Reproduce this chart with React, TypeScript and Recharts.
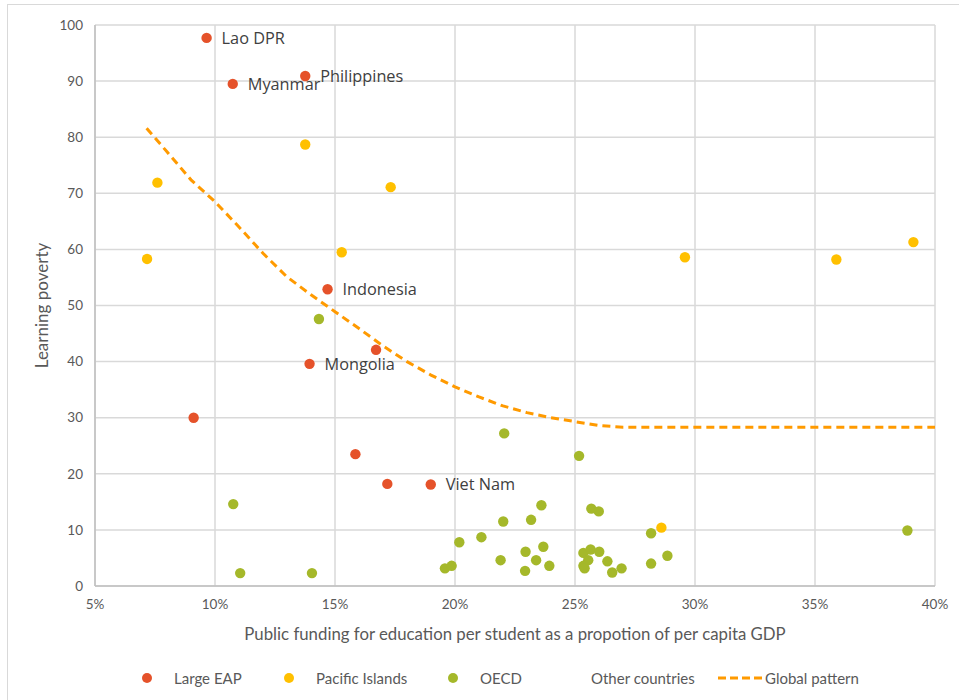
import { ScatterChart, Scatter, XAxis, YAxis, CartesianGrid, Label } from "recharts";

const FONT = "Lato, 'Open Sans', sans-serif";
const LABEL_FONT = "'Open Sans', Lato, sans-serif";
const RED = "#E5522A";
const YELLOW = "#FFC000";
const GREEN = "#A5B82A";
const ORANGE = "#FF9A00";

const xTicks = [5, 10, 15, 20, 25, 30, 35, 40];
const yTicks = [0, 10, 20, 30, 40, 50, 60, 70, 80, 90, 100];

// x = public funding per student (% of per capita GDP), y = learning poverty
const largeEap = [
  { x: 9.65, y: 97.7, name: "Lao DPR" },
  { x: 10.74, y: 89.5, name: "Myanmar" },
  { x: 13.76, y: 90.9, name: "Philippines" },
  { x: 14.69, y: 52.9, name: "Indonesia" },
  { x: 16.71, y: 42.1, name: "" },
  { x: 13.94, y: 39.6, name: "Mongolia" },
  { x: 9.11, y: 30.0, name: "" },
  { x: 15.85, y: 23.5, name: "" },
  { x: 17.18, y: 18.2, name: "" },
  { x: 18.99, y: 18.1, name: "Viet Nam" },
];

const pacificIslands = [
  { x: 13.76, y: 78.7 },
  { x: 7.6, y: 71.9 },
  { x: 17.32, y: 71.1 },
  { x: 7.17, y: 58.3 },
  { x: 15.28, y: 59.5 },
  { x: 29.58, y: 58.6 },
  { x: 35.89, y: 58.2 },
  { x: 39.1, y: 61.3 },
  { x: 28.6, y: 10.4 },
];

const oecd = [
  { x: 14.33, y: 47.6 },
  { x: 10.76, y: 14.6 },
  { x: 11.05, y: 2.3 },
  { x: 14.04, y: 2.3 },
  { x: 22.05, y: 27.2 },
  { x: 25.17, y: 23.2 },
  { x: 19.58, y: 3.15 },
  { x: 19.86, y: 3.6 },
  { x: 20.18, y: 7.8 },
  { x: 21.1, y: 8.7 },
  { x: 22.01, y: 11.5 },
  { x: 21.9, y: 4.6 },
  { x: 23.17, y: 11.8 },
  { x: 23.6, y: 14.4 },
  { x: 22.94, y: 6.1 },
  { x: 23.68, y: 7.0 },
  { x: 23.38, y: 4.6 },
  { x: 22.92, y: 2.7 },
  { x: 23.93, y: 3.6 },
  { x: 25.68, y: 13.8 },
  { x: 25.99, y: 13.3 },
  { x: 25.35, y: 5.9 },
  { x: 25.65, y: 6.5 },
  { x: 26.01, y: 6.1 },
  { x: 25.55, y: 4.6 },
  { x: 25.35, y: 3.6 },
  { x: 25.4, y: 3.15 },
  { x: 26.35, y: 4.4 },
  { x: 26.55, y: 2.4 },
  { x: 26.94, y: 3.15 },
  { x: 28.17, y: 9.4 },
  { x: 28.17, y: 4.0 },
  { x: 28.85, y: 5.4 },
  { x: 38.85, y: 9.9 },
];

const globalPattern = [
  { x: 7.15, y: 81.6 },
  { x: 8, y: 77.4 },
  { x: 9, y: 72.4 },
  { x: 10, y: 68.5 },
  { x: 11, y: 64.0 },
  { x: 12, y: 59.3 },
  { x: 13, y: 55.1 },
  { x: 14, y: 51.9 },
  { x: 15, y: 48.9 },
  { x: 16, y: 45.9 },
  { x: 17, y: 42.8 },
  { x: 18, y: 40.0 },
  { x: 19, y: 37.6 },
  { x: 20, y: 35.5 },
  { x: 21, y: 33.7 },
  { x: 22, y: 32.1 },
  { x: 23, y: 30.9 },
  { x: 24, y: 30.0 },
  { x: 25, y: 29.3 },
  { x: 26, y: 28.6 },
  { x: 27, y: 28.3 },
  { x: 40, y: 28.3 },
];

const dot = (color: string) => (props: any) =>
  <circle cx={props.cx} cy={props.cy} r={5.2} fill={color} />;

// country dots with their name written to the right
const EapDot = (props: any) => {
  const { cx, cy, payload } = props;
  return (
    <g>
      <circle cx={cx} cy={cy} r={5.2} fill={RED} />
      {payload.name ? (
        <text x={cx + 15} y={cy} dominantBaseline="central" fill="#404040"
          style={{ fontFamily: LABEL_FONT, fontSize: 16.3 }}>
          {payload.name}
        </text>
      ) : null}
    </g>
  );
};

const tickStyle = { fontFamily: FONT, fontSize: 13.5, fill: "#595959" };

function LegendBar() {
  const item = (left: number, marker: any, text: string) => (
    <div style={{ position: "absolute", left, top: 0, display: "flex", alignItems: "center", height: 16 }}>
      {marker}
      <span>{text}</span>
    </div>
  );
  const circle = (c: string) => (
    <svg width={33} height={16} style={{ marginLeft: -6 }}>
      <circle cx={6} cy={8} r={5} fill={c} />
    </svg>
  );
  return (
    <div style={{ position: "absolute", left: 0, top: 670, width: 959, height: 16,
      fontFamily: FONT, fontSize: 15, color: "#595959" }}>
      {item(147, circle(RED), "Large EAP")}
      {item(289, circle(YELLOW), "Pacific Islands")}
      {item(453, circle(GREEN), "OECD")}
      {item(591, null, "Other countries")}
      {item(718, (
        <svg width={47} height={16}>
          <line x1={0} y1={8} x2={44} y2={8} stroke={ORANGE} strokeWidth={3} strokeDasharray="8 4" />
        </svg>
      ), "Global pattern")}
    </div>
  );
}

export default function App() {
  return (
    <div style={{ position: "absolute", left: 0, top: 0, width: 959, height: 700, background: "#fff", overflow: "hidden" }}>
      <div style={{ position: "absolute", left: 7, top: 4, width: 980, height: 720, border: "1px solid #d9d9d9" }} />
      <ScatterChart width={959} height={700} margin={{ top: 25, right: 24, left: 30, bottom: 54 }}>
        <CartesianGrid stroke="#d9d9d9" strokeWidth={1.5} />
        <XAxis type="number" dataKey="x" domain={[5, 40]} ticks={xTicks} interval={0}
          tickFormatter={(v: number) => `${v}%`} tick={tickStyle} tickLine={false}
          tickSize={0} tickMargin={13} axisLine={{ stroke: "#bfbfbf", strokeWidth: 1.5 }} height={60}>
          <Label value="Public funding for education per student as a propotion of per capita GDP"
            position="insideBottom" offset={6}
            style={{ fontFamily: FONT, fontSize: 16.8, fill: "#595959" }} />
        </XAxis>
        <YAxis type="number" dataKey="y" domain={[0, 100]} ticks={yTicks} interval={0}
          tick={tickStyle} tickLine={false} tickSize={0} tickMargin={12}
          axisLine={{ stroke: "#bfbfbf", strokeWidth: 1.5 }} width={65}>
          <Label value="Learning poverty" angle={-90} position="insideLeft" offset={12}
            style={{ fontFamily: FONT, fontSize: 17, fill: "#595959", textAnchor: "middle" }} />
        </YAxis>
        <Scatter name="Large EAP" data={largeEap} shape={EapDot} isAnimationActive={false} />
        <Scatter name="Pacific Islands" data={pacificIslands} shape={dot(YELLOW)} isAnimationActive={false} />
        <Scatter name="OECD" data={oecd} shape={dot(GREEN)} isAnimationActive={false} />
        <Scatter name="Global pattern" data={globalPattern} shape={() => <g />}
          line={{ stroke: ORANGE, strokeWidth: 3, strokeDasharray: "8 5" }}
          lineType="joint" isAnimationActive={false} />
      </ScatterChart>
      <LegendBar />
    </div>
  );
}
